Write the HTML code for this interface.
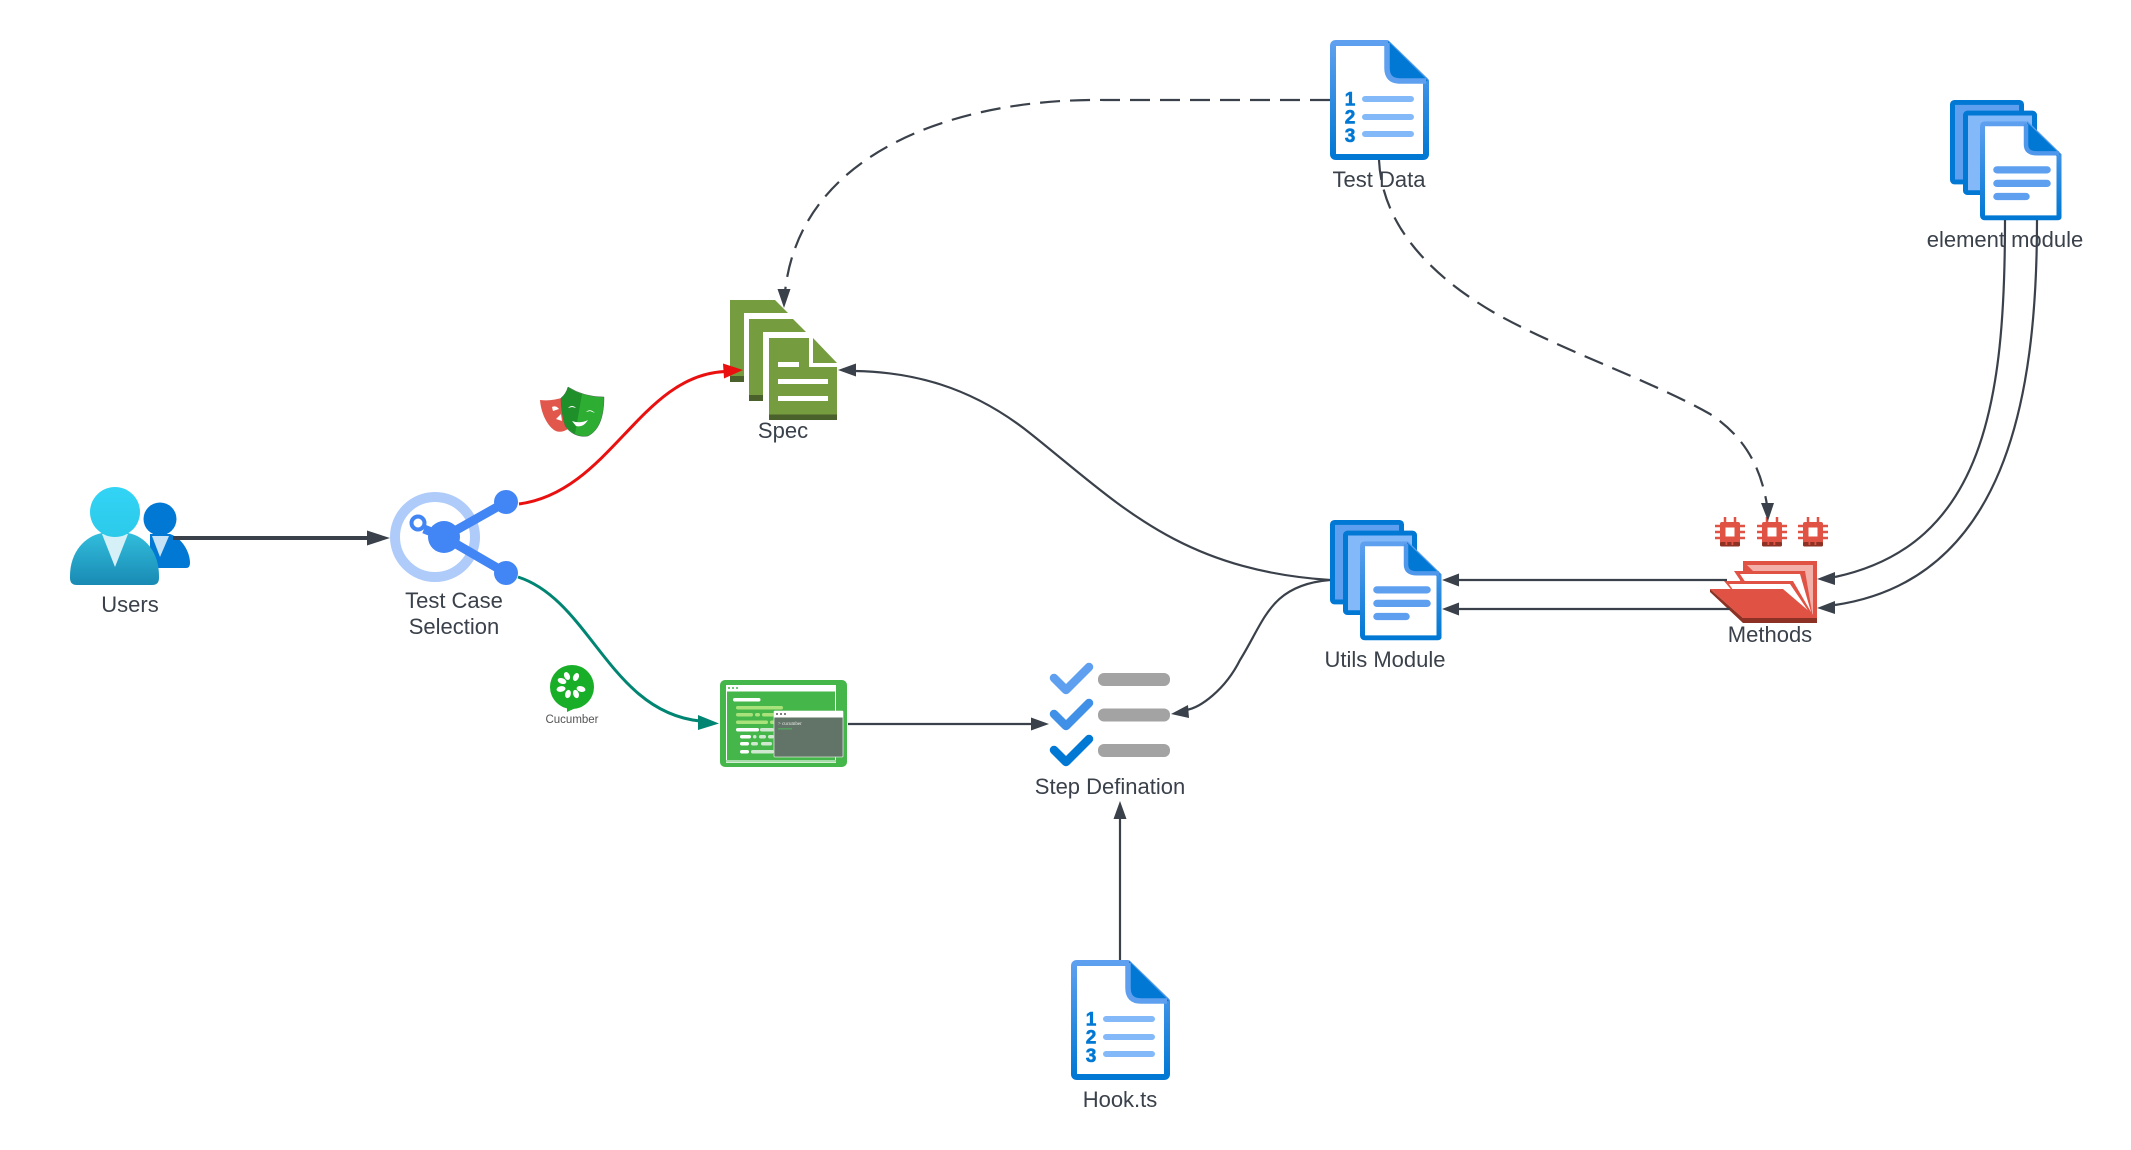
<!DOCTYPE html>
<html><head><meta charset="utf-8"><title>Test Framework Diagram</title>
<style>
html,body{margin:0;padding:0;background:#fff;width:2131px;height:1150px;overflow:hidden}
svg{display:block}
text{font-family:"Liberation Sans",sans-serif;font-size:22px;fill:#3a414a;text-anchor:middle}
.c{fill:none;stroke:#3a414a;stroke-width:2.2}
.d{fill:none;stroke:#3a414a;stroke-width:2.2;stroke-dasharray:20 10}
.h{fill:#3a414a}
.n{font-size:19px;font-weight:bold;fill:#0078d4;stroke:#0078d4;stroke-width:.6}
</style></head><body>
<svg width="2131" height="1150" viewBox="0 0 2131 1150" xmlns="http://www.w3.org/2000/svg">
<defs>
<linearGradient id="bg" x1="0" y1="0" x2="0" y2="1"><stop offset="0" stop-color="#5ea0ef"/><stop offset="1" stop-color="#0078d4"/></linearGradient>
<linearGradient id="bu" x1="0" y1="0" x2="0" y2="1"><stop offset="0" stop-color="#32bedd"/><stop offset="1" stop-color="#198ab3"/></linearGradient>
<linearGradient id="bh" x1="0" y1="0" x2="0" y2="1"><stop offset="0" stop-color="#32d4f5"/><stop offset="1" stop-color="#2cc9ea"/></linearGradient>
<g id="numdoc">
<path d="M3 6Q3 3 6 3H57L96 41V114Q96 117 93 117H6Q3 117 3 114Z" fill="#fff" stroke="url(#bg)" stroke-width="6" stroke-linejoin="round"/>
<path d="M58 1L98 41H70Q58 41 58 29Z" fill="#0078d4"/>
<path d="M57 3V28Q57 41 70 41H96" fill="none" stroke="#5ea0ef" stroke-width="5.500"/>
<g stroke="#83b9f9" stroke-width="6" stroke-linecap="round"><path d="M35 59H81M35 77H81M35 94H81"/></g>
</g>
<g id="stack">
<rect x="2.500" y="2.500" width="69" height="82" rx="2" fill="#5ea0ef" stroke="#0078d4" stroke-width="5"/>
<rect x="15.500" y="13.500" width="69" height="82" rx="2" fill="#83b9f9" stroke="#0078d4" stroke-width="5"/>
<path d="M32.500 27Q32.500 24.500 35 24.500H77L109 57V121Q109 121.500 107 121.500H35Q32.500 121.500 32.500 119Z" fill="#fff" stroke="url(#bg)" stroke-width="5"/>
<path d="M77 23L110 56H87Q77 56 77 46Z" fill="#0078d4"/>
<path d="M76 24.500V46Q76 55 87 55H109" fill="none" stroke="#4f97ea" stroke-width="4.500"/>
<g stroke="#5ea0ef" stroke-width="7.500" stroke-linecap="round"><path d="M47 72H97M47 86H97M47 99.500H76"/></g>
</g>
<g id="chip">
<g stroke="#e05243" stroke-width="2.500"><path d="M-15 -6H15M-15 0H15M-15 6H15M-5 -15V0M5 -15V0"/></g>
<rect x="-10" y="-10" width="20" height="24" rx="2" fill="#e05243"/>
<rect x="-10" y="10" width="20" height="4.500" rx="1.500" fill="#8c3123"/>
<g fill="#e05243"><rect x="-4.500" y="10" width="1.800" height="3"/><rect x="1.500" y="10" width="1.800" height="3"/></g>
<rect x="-4.500" y="-4.500" width="9" height="9" fill="#fff"/>
</g>
</defs>

<!-- users -->
<circle cx="160" cy="519" r="16.500" fill="#0078d4"/>
<path d="M150 534H170C182 538 190 552 190 563Q190 568 186 568H150Z" fill="#0078d4"/>
<polygon points="152,536 169,536 160,557" fill="#c5e2f7"/>
<path d="M70 576C70 552 85 536 102 533H128C145 536 159 552 159 576V578Q159 585 152 585H77Q70 585 70 578Z" fill="url(#bu)"/>
<polygon points="102,534 128,534 115,567" fill="#d5f0f7"/>
<circle cx="115" cy="512" r="25" fill="url(#bh)"/>
<text x="130" y="612">Users</text>

<!-- test case selection -->
<circle cx="435" cy="537" r="40" fill="none" stroke="#aecbfa" stroke-width="10"/>
<path d="M424 529L444 537M444 537L506 502M444 537L506 573" stroke="#4285f4" stroke-width="9" fill="none"/>
<circle cx="418" cy="523" r="6.500" fill="#fff" stroke="#4285f4" stroke-width="4"/>
<circle cx="444" cy="537" r="16" fill="#4285f4"/>
<circle cx="506" cy="502" r="12" fill="#4285f4"/>
<circle cx="506" cy="573" r="12" fill="#4285f4"/>
<text x="454" y="608">Test Case</text>
<text x="454" y="634">Selection</text>

<!-- playwright masks -->
<path d="M540 400C548 401 556 400 564 397L568 429Q560 434 554 430C546 424 541 412 540 400Z" fill="#e2574c"/>
<path d="M552 407Q556 405 559 409L553 411ZM556 419L561 414L562 421Z" fill="#fff"/>
<path d="M561 398Q566 394 568 387Q584 397 604 397C604 415 600 430 588 436C578 438 568 432 565 425C562 415 561 405 561 398Z" fill="#2ead33" stroke="#3a4a40" stroke-width=".4"/>
<path d="M561 398Q566 394 568 387Q575 392 582 394L575 434C570 431 567 428 565 425C562 415 561 405 561 398Z" fill="#1f8f2a"/>
<path d="M568 408Q572 404 576 408L572 407ZM586 412Q590 408 595 413L590 411ZM572 421Q580 424 588 420Q583 428 576 426Z" fill="#fff"/>

<!-- spec -->
<g>
<path d="M730 300H775L789 314V382H730Z" fill="#759c3e"/><rect x="730" y="376" width="20" height="6" fill="#4b612c"/>
<path d="M744 313H749V401H744Z" fill="#fff"/><path d="M744 313H790V319H744Z" fill="#fff"/>
<path d="M749 319H793L808 334V401H749Z" fill="#759c3e"/><rect x="749" y="395" width="20" height="6" fill="#4b612c"/>
<path d="M763 332H769V420H763Z" fill="#fff"/><path d="M763 332H810V338H763Z" fill="#fff"/>
<path d="M769 338H813L837 363V420H769Z" fill="#759c3e"/>
<rect x="769" y="414.500" width="68" height="5.500" fill="#4b612c"/>
<path d="M811 338V365H837" fill="none" stroke="#fff" stroke-width="4"/>
<g fill="#fff"><rect x="778" y="362" width="21" height="5"/><rect x="778" y="379" width="50" height="5"/><rect x="778" y="396" width="50" height="5"/></g>
</g>
<text x="783" y="438">Spec</text>

<!-- cucumber -->
<path d="M567 706L567 712L580 706Z" fill="#18ae27"/>
<circle cx="572" cy="687" r="22" fill="#18ae27"/>
<g fill="#fff">
<ellipse cx="567" cy="676" rx="2.800" ry="4.200" transform="rotate(-25 567 676)"/>
<ellipse cx="576" cy="677" rx="2.800" ry="4.200" transform="rotate(25 576 677)"/>
<ellipse cx="562" cy="681" rx="4.500" ry="2.800" transform="rotate(20 562 681)"/>
<ellipse cx="561" cy="689" rx="4.500" ry="2.800" transform="rotate(-10 561 689)"/>
<ellipse cx="568" cy="694" rx="2.800" ry="4.200" transform="rotate(15 568 694)"/>
<ellipse cx="576" cy="694" rx="2.800" ry="4.200" transform="rotate(-20 576 694)"/>
<ellipse cx="581" cy="689" rx="4.500" ry="2.800" transform="rotate(15 581 689)"/>
</g>
<text x="572" y="723" style="font-size:11.500px;fill:#555">Cucumber</text>

<!-- green terminal -->
<rect x="720" y="680" width="127" height="87" rx="5" fill="#45b649"/>
<rect x="726.500" y="685.500" width="109" height="77" fill="none" stroke="#fff" stroke-width="1"/>
<rect x="726" y="685" width="110" height="6.500" fill="#fff"/>
<rect x="726" y="760" width="110" height="2.500" fill="#a8dcaa"/>
<g fill="#45b649"><circle cx="729" cy="688" r="1"/><circle cx="733" cy="688" r="1"/><circle cx="737" cy="688" r="1"/></g>
<g>
<rect x="733" y="698" width="27.500" height="3.500" rx="1.700" fill="#fff"/>
<rect x="736" y="706" width="47" height="3.500" rx="1.700" fill="#a9e27b"/>
<rect x="736" y="713" width="17" height="3.500" rx="1.700" fill="#a9e27b"/>
<rect x="755" y="713" width="5" height="3.500" rx="1.700" fill="#a9e27b"/>
<rect x="762" y="713" width="14" height="3.500" rx="1.700" fill="#a9e27b"/>
<rect x="736" y="720.500" width="32" height="3.500" rx="1.700" fill="#a9e27b"/>
<rect x="770" y="720.500" width="6" height="3.500" rx="1.700" fill="#a9e27b"/>
<rect x="736" y="728" width="23" height="3.500" rx="1.700" fill="#fff"/>
<rect x="760" y="728" width="14" height="3.500" rx="1.700" fill="#cfe8cf"/>
<rect x="740" y="735" width="11" height="3.500" rx="1.700" fill="#fff"/>
<rect x="753" y="735" width="3.500" height="3.500" rx="1.700" fill="#cfe8cf"/>
<rect x="759" y="735" width="7" height="3.500" rx="1.700" fill="#cfe8cf"/>
<rect x="768" y="735" width="6" height="3.500" rx="1.700" fill="#cfe8cf"/>
<rect x="740" y="742" width="9" height="3.500" rx="1.700" fill="#fff"/>
<rect x="751" y="742" width="7" height="3.500" rx="1.700" fill="#cfe8cf"/>
<rect x="761" y="742" width="11" height="3.500" rx="1.700" fill="#cfe8cf"/>
<rect x="740" y="750" width="9" height="3.500" rx="1.700" fill="#fff"/>
<rect x="751" y="750" width="23" height="3.500" rx="1.700" fill="#cfe8cf"/>
</g>
<rect x="774" y="711" width="69" height="46" rx="1" fill="#617467" stroke="#d8e6d8" stroke-width="0.800"/>
<rect x="774" y="711" width="69" height="6.500" fill="#fff"/>
<g fill="#555"><circle cx="777" cy="714" r="1"/><circle cx="781" cy="714" r="1"/><circle cx="785" cy="714" r="1"/></g>
<text x="778" y="725" style="font-size:5px;fill:#eee;text-anchor:start;font-family:'Liberation Serif',serif">&gt; cucumber</text>
<rect x="778" y="728" width="14" height="1.500" fill="#55a060"/>

<!-- step definition -->
<g fill="none" stroke-width="8.500" stroke-linecap="round" stroke-linejoin="round">
<path d="M1054 678L1066 690L1089 667" stroke="#5ea0ef"/>
<path d="M1054 714L1066 726L1089 703" stroke="#3f90e6"/>
<path d="M1054 750L1066 762L1089 739" stroke="#0078d4"/>
</g>
<g fill="#a3a3a3"><rect x="1098" y="673" width="72" height="13" rx="6"/><rect x="1098" y="708.500" width="72" height="13" rx="6"/><rect x="1098" y="744" width="72" height="13" rx="6"/></g>
<text x="1110" y="794">Step Defination</text>

<!-- test data -->
<g transform="translate(1330 40)"><use href="#numdoc"/>
<text class="n" x="20" y="65.500">1</text>
<text class="n" x="20" y="83.500">2</text>
<text class="n" x="20" y="102">3</text>
</g>
<text x="1379" y="187">Test Data</text>

<!-- hook -->
<g transform="translate(1071 960)"><use href="#numdoc"/>
<text class="n" x="20" y="65.500">1</text>
<text class="n" x="20" y="83.500">2</text>
<text class="n" x="20" y="102">3</text>
</g>
<text x="1120" y="1107">Hook.ts</text>

<!-- utils + element -->
<use href="#stack" transform="translate(1330 520) scale(1 .97)"/>
<text x="1385" y="667">Utils Module</text>
<use href="#stack" transform="translate(1950 100) scale(1 .97)"/>
<text x="2005" y="247">element module</text>

<!-- chips -->
<use href="#chip" transform="translate(1730 532)"/>
<use href="#chip" transform="translate(1772 532)"/>
<use href="#chip" transform="translate(1813 532)"/>

<!-- folder -->
<rect x="1743" y="561" width="74" height="62" fill="#e05243"/>
<polygon points="1747,565 1813,565 1813,618 1800,618" fill="#f2b0a9"/>
<polygon points="1734,571 1805,571 1813,618 1745,600 1740,580" fill="#e05243"/>
<polygon points="1740,574 1800,574 1811,612 1760,600 1744,580" fill="#fff"/>
<polygon points="1724,581 1793,581 1811,612 1750,612" fill="#e05243"/>
<polygon points="1729,584 1790,584 1809,612 1755,600 1733,590" fill="#fff"/>
<polygon points="1710,589 1710,592 1743,623 1817,623 1817,618 1743,618" fill="#8c3123"/>
<polygon points="1710,589 1783,589 1817,618 1743,618" fill="#e05243"/>
<text x="1770" y="642">Methods</text>

<!-- connectors -->
<path d="M173 538H370" fill="none" stroke="#3a414a" stroke-width="4"/>
<polygon class="h" points="390,538 367,530.500 367,545.500"/>
<path d="M519 504C610 492 640 375 725 371.500" fill="none" stroke="#ea1010" stroke-width="3"/>
<polygon fill="#ea1010" points="743,370 723,363.500 724,378.500"/>
<path d="M518 577C590 600 610 712 700 721" fill="none" stroke="#008573" stroke-width="3"/>
<polygon fill="#008573" points="719,723.500 698,715 698,730"/>
<path class="d" d="M1330 100H1104C960 98 800 150 785 292"/>
<polygon class="h" points="784,308 777.500,289 790.500,289"/>
<path class="d" d="M1379 160C1382 225 1430 275 1493 312C1560 350 1650 380 1710 414C1750 440 1762 475 1767 505"/>
<polygon class="h" points="1768,521 1761,503 1774,503"/>
<path class="c" d="M1330 580C1180 570 1120 505 1031 434C970 385 910 372 855 371"/>
<polygon class="h" points="838,370 856,363.500 856,376.500"/>
<path class="c" d="M1330 580C1270 585 1265 620 1240 660C1225 690 1200 708 1186 710"/>
<polygon class="h" points="1171,714 1188,705 1189,718"/>
<path class="c" d="M848 724H1032"/>
<polygon class="h" points="1049,724 1031,717.500 1031,730.500"/>
<path class="c" d="M1120 960V815"/>
<polygon class="h" points="1120,801 1113.500,819 1126.500,819"/>
<path class="c" d="M1727 580H1458"/>
<polygon class="h" points="1442,580 1459,573.500 1459,586.500"/>
<path class="c" d="M1730 609H1458"/>
<polygon class="h" points="1442,609 1459,602.500 1459,615.500"/>
<path class="c" d="M2005 220C2005 400 1985 545 1835 577"/>
<polygon class="h" points="1817,579 1835,572 1835,585"/>
<path class="c" d="M2037 220C2037 400 2005 580 1835 605"/>
<polygon class="h" points="1817,608 1835,601 1835,614"/>
</svg>
</body></html>
